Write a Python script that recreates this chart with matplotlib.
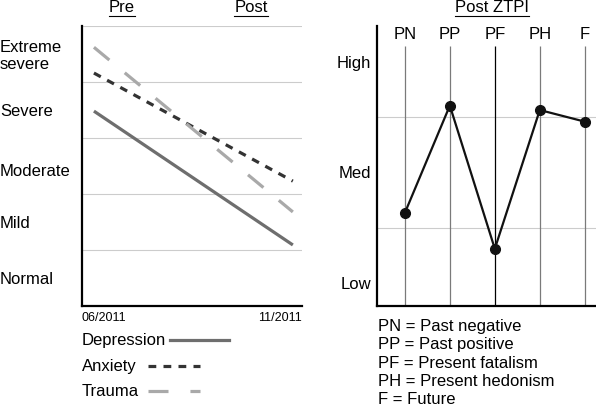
import matplotlib
matplotlib.use("Agg")
import matplotlib.pyplot as plt
from matplotlib.lines import Line2D

plt.rcParams["font.family"] = ["Liberation Sans", "DejaVu Sans"]
plt.rcParams["lines.scale_dashes"] = False

# left panel: symptom severity pre/post
months = [6, 11]
date_labels = ["06/2011", "11/2011"]
severity_levels = ["Normal", "Mild", "Moderate", "Severe", "Extreme\nsevere"]
depression = [3.48, 1.09]
anxiety = [4.16, 2.23]
trauma = [4.62, 1.68]

# right panel: post ZTPI profile
ztpi_codes = ["PN", "PP", "PF", "PH", "F"]
ztpi_scores = [2.27, 4.21, 1.62, 4.13, 3.92]
ztpi_levels = ["Low", "Med", "High"]
ztpi_notes = ["PN = Past negative", "PP = Past positive", "PF = Present fatalism",
              "PH = Present hedonism", "F = Future"]

W, H = 596, 408
fig = plt.figure(figsize=(W / 100, H / 100), dpi=100)


def fx(px):
    return px / W


def fy(py):
    return 1 - py / H


# ---- left axes
ax1 = fig.add_axes([fx(82), fy(306), fx(302 - 82), (306 - 26) / H])
ax1.set_xlim(5.7, 11.23)
ax1.set_ylim(0, 5)
for lvl in range(1, 6):
    ax1.axhline(lvl, color="#cccccc", lw=0.8, zorder=0)

ax1.plot(months, depression, color="#6e6e6e", lw=2.3, solid_capstyle="butt")
ax1.plot(months, anxiety, color="#333333", lw=2.3, dashes=(5.6, 5.2))
ax1.plot(months, trauma, color="#a9a9a9", lw=2.3, dashes=(14.4, 14.4))

for side in ["top", "right"]:
    ax1.spines[side].set_visible(False)
ax1.spines["left"].set_linewidth(1.6)
ax1.spines["bottom"].set_linewidth(1.6)
ax1.set_xticks([])
ax1.set_yticks([0.5, 1.5, 2.43, 3.5, 4.5])
ax1.set_yticklabels(severity_levels, fontsize=12, ha="left", linespacing=1.1)
ax1.tick_params(axis="y", length=0, pad=59)
ax1.text(0, -0.02, date_labels[0], transform=ax1.transAxes, ha="left", va="top", fontsize=9)
ax1.text(1, -0.02, date_labels[1], transform=ax1.transAxes, ha="right", va="top", fontsize=9)

# ---- right axes
ax2 = fig.add_axes([fx(377), fy(306), fx(W - 377), (306 - 26) / H])
ax2.set_xlim(-0.62, 4.25)
ax2.set_ylim(0.585, 5.65)
for lvl in [2, 4]:
    ax2.axhline(lvl, color="#cccccc", lw=0.8, zorder=0)
xs = list(range(len(ztpi_codes)))
for x, code in zip(xs, ztpi_codes):
    ax2.vlines(x, 0.585, 5.29, color="black" if code == "PF" else "#7a7a7a", lw=0.9, zorder=1)
    ax2.text(x, 5.49, code, ha="center", va="center", fontsize=12)
ax2.plot(xs, ztpi_scores, color="#111111", lw=1.6, marker="o", ms=7, zorder=3)

for side in ["top", "right"]:
    ax2.spines[side].set_visible(False)
ax2.spines["left"].set_linewidth(1.6)
ax2.spines["bottom"].set_linewidth(1.6)
ax2.set_xticks([])
ax2.set_yticks([1, 3, 5])
ax2.set_yticklabels(ztpi_levels, fontsize=12)
ax2.tick_params(axis="y", length=0, pad=4)

for i, note in enumerate(ztpi_notes):
    fig.text(fx(378), fy(326 + i * 18.5), note, ha="left", va="center", fontsize=12)

# ---- legend for left panel (drawn by hand: label first, then line sample)
fig.text(fx(82), fy(340), "Depression", ha="left", va="center", fontsize=12)
fig.text(fx(82), fy(366), "Anxiety", ha="left", va="center", fontsize=12)
fig.text(fx(82), fy(391), "Trauma", ha="left", va="center", fontsize=12)
fig.add_artist(Line2D([fx(170), fx(229)], [fy(340)] * 2, color="#6e6e6e", lw=2.3))
fig.add_artist(Line2D([fx(148), fx(200)], [fy(366)] * 2, color="#333333", lw=2.3,
                      dashes=(5.6, 5.2)))
fig.add_artist(Line2D([fx(148), fx(200)], [fy(391)] * 2, color="#a9a9a9", lw=2.3,
                      dashes=(14.4, 15.8)))

# ---- underlined headings
heads = [("Pre", 122), ("Post", 251), ("Post ZTPI", 492)]
fig.canvas.draw()
renderer = fig.canvas.get_renderer()
for label, cx in heads:
    t = fig.text(fx(cx), fy(8), label, ha="center", va="center", fontsize=12)
    bb = t.get_window_extent(renderer)
    fig.add_artist(Line2D([bb.x0 / W, bb.x1 / W], [fy(16)] * 2, color="black", lw=0.8))

fig.savefig("out.png", dpi=100)
